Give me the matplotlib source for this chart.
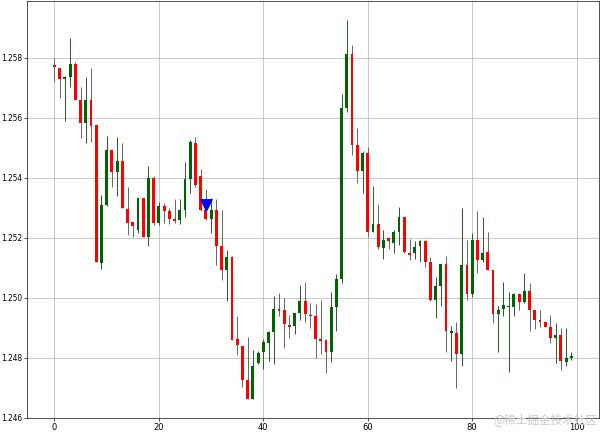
import numpy as np
import matplotlib
matplotlib.use("Agg")
import matplotlib.pyplot as plt

# candle data (index 0..99)
opens = [
    1.25775, 1.25767, 1.25729, 1.25736, 1.25779, 1.25660, 1.25584, 1.25660, 1.25576, 1.25116,
    1.25310, 1.25493, 1.25421, 1.25457, 1.25297, 1.25254, 1.25227, 1.25332, 1.25202, 1.25401,
    1.25249, 1.25307, 1.25291, 1.25263, 1.25258, 1.25293, 1.25397, 1.25516, 1.25406, 1.25293,
    1.25262, 1.25293, 1.25174, 1.25093, 1.25136, 1.24862, 1.24841, 1.24727, 1.24664, 1.24782,
    1.24818, 1.24851, 1.24887, 1.24962, 1.24959, 1.24909, 1.24907, 1.24951, 1.24990, 1.24943,
    1.24940, 1.24862, 1.24859, 1.24818, 1.24970, 1.25062, 1.25634, 1.25813, 1.25510, 1.25423,
    1.25484, 1.25219, 1.25247, 1.25166, 1.25199, 1.25184, 1.25219, 1.25269, 1.25151, 1.25149,
    1.25173, 1.25191, 1.25121, 1.24993, 1.25038, 1.25112, 1.24884, 1.24884, 1.24813, 1.25108,
    1.25012, 1.25193, 1.25127, 1.25154, 1.25093, 1.24947, 1.24963, 1.24969, 1.24969, 1.25012,
    1.24986, 1.25022, 1.24958, 1.24927, 1.24921, 1.24904, 1.24866, 1.24877, 1.24787, 1.24800,
]
highs = [
    1.25800, 1.25767, 1.25740, 1.25866, 1.25788, 1.25702, 1.25736, 1.25766, 1.25576, 1.25342,
    1.25538, 1.25493, 1.25536, 1.25516, 1.25368, 1.25254, 1.25332, 1.25332, 1.25441, 1.25405,
    1.25321, 1.25316, 1.25299, 1.25331, 1.25331, 1.25453, 1.25527, 1.25536, 1.25429, 1.25362,
    1.25332, 1.25331, 1.25293, 1.25160, 1.25140, 1.24938, 1.24841, 1.24871, 1.24827, 1.24823,
    1.24864, 1.24890, 1.25007, 1.25016, 1.24999, 1.24942, 1.24951, 1.25042, 1.25053, 1.24984,
    1.24979, 1.24993, 1.24862, 1.25021, 1.25079, 1.25679, 1.25927, 1.25843, 1.25566, 1.25488,
    1.25504, 1.25373, 1.25313, 1.25227, 1.25202, 1.25227, 1.25302, 1.25271, 1.25196, 1.25191,
    1.25193, 1.25193, 1.25136, 1.25069, 1.25112, 1.25138, 1.24907, 1.24921, 1.25299, 1.25193,
    1.25216, 1.25288, 1.25271, 1.25218, 1.25093, 1.24973, 1.25054, 1.25018, 1.25016, 1.25016,
    1.25084, 1.25049, 1.24958, 1.24958, 1.24924, 1.24943, 1.24916, 1.24899, 1.24899, 1.24819,
]
lows = [
    1.25720, 1.25668, 1.25588, 1.25702, 1.25660, 1.25532, 1.25516, 1.25521, 1.25118, 1.25096,
    1.25305, 1.25371, 1.25340, 1.25299, 1.25210, 1.25204, 1.25216, 1.25202, 1.25173, 1.25243,
    1.25243, 1.25249, 1.25247, 1.25251, 1.25247, 1.25271, 1.25349, 1.25370, 1.25288, 1.25260,
    1.25216, 1.25108, 1.25060, 1.24988, 1.24860, 1.24810, 1.24702, 1.24664, 1.24662, 1.24779,
    1.24764, 1.24790, 1.24779, 1.24940, 1.24832, 1.24867, 1.24879, 1.24927, 1.24920, 1.24900,
    1.24801, 1.24812, 1.24751, 1.24787, 1.24890, 1.25050, 1.25620, 1.25477, 1.25384, 1.25351,
    1.25204, 1.25219, 1.25162, 1.25129, 1.25162, 1.25151, 1.25177, 1.25151, 1.25127, 1.25129,
    1.25121, 1.25104, 1.24991, 1.24932, 1.24973, 1.24818, 1.24791, 1.24701, 1.24773, 1.24993,
    1.25004, 1.25084, 1.25121, 1.25093, 1.24916, 1.24821, 1.24938, 1.24754, 1.24938, 1.24960,
    1.24984, 1.24891, 1.24896, 1.24902, 1.24902, 1.24851, 1.24782, 1.24760, 1.24773, 1.24793,
]
closes = [
    1.25770, 1.25729, 1.25736, 1.25779, 1.25660, 1.25584, 1.25660, 1.25573, 1.25118, 1.25310,
    1.25493, 1.25421, 1.25457, 1.25299, 1.25251, 1.25238, 1.25332, 1.25202, 1.25401, 1.25249,
    1.25307, 1.25291, 1.25262, 1.25257, 1.25293, 1.25397, 1.25521, 1.25377, 1.25293, 1.25262,
    1.25293, 1.25174, 1.25093, 1.25136, 1.24860, 1.24843, 1.24727, 1.24664, 1.24773, 1.24816,
    1.24853, 1.24887, 1.24962, 1.24957, 1.24914, 1.24904, 1.24948, 1.24990, 1.24946, 1.24940,
    1.24862, 1.24857, 1.24818, 1.24970, 1.25062, 1.25632, 1.25813, 1.25508, 1.25423, 1.25484,
    1.25221, 1.25247, 1.25171, 1.25193, 1.25188, 1.25219, 1.25269, 1.25154, 1.25143, 1.25171,
    1.25191, 1.25118, 1.24993, 1.25038, 1.25112, 1.24890, 1.24890, 1.24813, 1.25108, 1.25012,
    1.25193, 1.25127, 1.25151, 1.25093, 1.24946, 1.24960, 1.24977, 1.24973, 1.25012, 1.24986,
    1.25024, 1.24960, 1.24927, 1.24921, 1.24904, 1.24866, 1.24877, 1.24788, 1.24801, 1.24807,
]

# sell signal marker
signal_x = [29]
signal_y = [1.2531]

o = np.array(opens)
h = np.array(highs)
l = np.array(lows)
c = np.array(closes)
x = np.arange(len(o))

up = c >= o
body_colors = np.where(up, "darkgreen", "red")
wick_colors = np.where(up, "#2f5f2f", "#6a6a6a")

fig, ax = plt.subplots(figsize=(10, 7.2), dpi=60)
fig.subplots_adjust(left=0.045, right=0.998, bottom=0.032, top=0.998)

ax.set_axisbelow(True)
ax.grid(True)
ax.tick_params(axis="x", pad=2)
ax.tick_params(axis="y", labelsize=9, pad=2.5)

# wicks
ax.vlines(x, l, h, colors=wick_colors, linewidth=1.2, zorder=2)

# bodies
ax.bar(x, c - o, bottom=o, width=0.55, color=body_colors, zorder=3)

# signal
ax.plot(signal_x, signal_y, "v", color="blue", markersize=14, zorder=4)

fig.text(0.995, 0.028, "@稀土掘金技术社区", ha="right", va="center",
         fontsize=14, color="#c8c8c8",
         family=["Noto Sans CJK SC", "DejaVu Sans"])

plt.savefig("out.png", dpi=60)
